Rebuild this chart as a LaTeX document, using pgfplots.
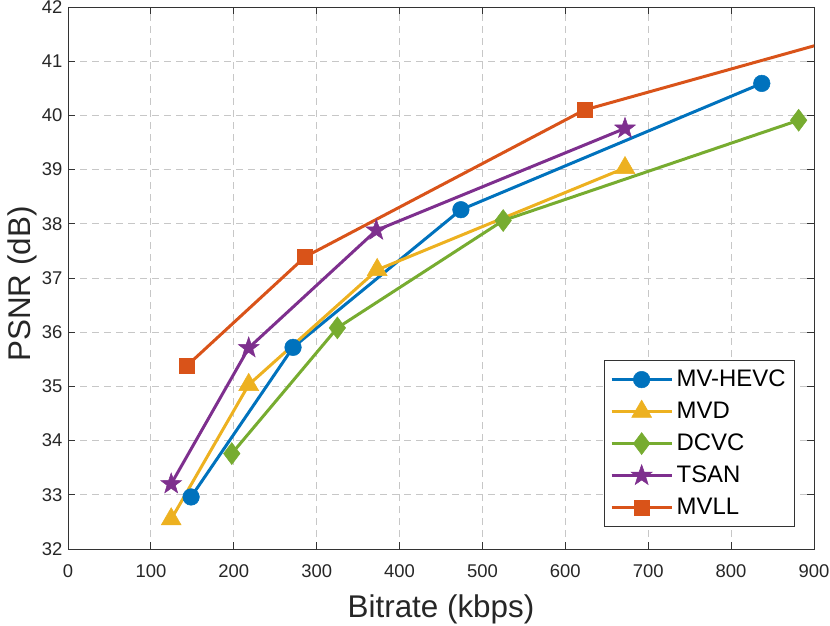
\documentclass[border=0pt]{standalone}
\usepackage{fontspec}
\setmainfont{Liberation Sans}
\usepackage{pgfplots}
\pgfplotsset{compat=1.18}
\definecolor{mblue}{rgb}{0,0.447,0.741}
\definecolor{morange}{rgb}{0.850,0.325,0.098}
\definecolor{myellow}{rgb}{0.929,0.694,0.125}
\definecolor{mpurple}{rgb}{0.494,0.184,0.556}
\definecolor{mgreen}{rgb}{0.466,0.674,0.188}
\pgfdeclareplotmark{fstar}{%
  \pgfpathmoveto{\pgfpointpolar{90}{\pgfplotmarksize}}%
  \pgfpathlineto{\pgfpointpolar{126}{0.40\pgfplotmarksize}}%
  \pgfpathlineto{\pgfpointpolar{162}{\pgfplotmarksize}}%
  \pgfpathlineto{\pgfpointpolar{198}{0.40\pgfplotmarksize}}%
  \pgfpathlineto{\pgfpointpolar{234}{\pgfplotmarksize}}%
  \pgfpathlineto{\pgfpointpolar{270}{0.40\pgfplotmarksize}}%
  \pgfpathlineto{\pgfpointpolar{306}{\pgfplotmarksize}}%
  \pgfpathlineto{\pgfpointpolar{342}{0.40\pgfplotmarksize}}%
  \pgfpathlineto{\pgfpointpolar{18}{\pgfplotmarksize}}%
  \pgfpathlineto{\pgfpointpolar{54}{0.40\pgfplotmarksize}}%
  \pgfpathclose
  \pgfusepathqfillstroke}
\begin{document}
\begin{tikzpicture}
\path[use as bounding box] (-68bp,-77bp) rectangle (762bp,549bp);
\begin{axis}[
  at={(0,0)}, anchor=south west,
  scale only axis, width=746bp, height=542bp,
  xmin=0, xmax=900, ymin=32, ymax=42,
  xtick={0,100,...,900}, ytick={32,33,...,42},
  /pgf/number format/assume math mode=true,
  tick label style={font=\fontsize{18.5}{22}\selectfont, text=black!85},
  xticklabel style={yshift=-12bp},
  yticklabel style={xshift=-2bp},
  tick align=inside, major tick length=7bp,
  xtick pos=both, ytick pos=both,
  axis line style={black!80, line width=0.8bp},
  every tick/.style={black!80, line width=0.8bp},
  grid=major,
  major grid style={black!22, line width=0.8bp, dash pattern=on 7bp off 5bp},
  xlabel={Bitrate (kbps)}, ylabel={PSNR (dB)},
  label style={font=\fontsize{31.5}{36}\selectfont, text=black!85},
  xlabel style={at={(axis description cs:0.5,0)}, anchor=base, yshift=-68bp, inner sep=0pt},
  ylabel style={at={(axis description cs:0,0.5)}, anchor=north, yshift=60bp, xshift=-6bp, inner sep=0pt},
  every axis plot/.append style={line width=3bp},
  legend cell align=left,
  legend style={at={(rel axis cs:1,0)}, anchor=south east, xshift=-19bp, yshift=22bp,
    font=\fontsize{24}{28}\selectfont, draw=black!80, line width=0.8bp,
    inner xsep=5.5bp, inner ysep=3bp,
    nodes={inner sep=3.5bp, text height=19bp, text depth=6bp},
    /tikz/every even column/.append style={column sep=0bp}},
  legend image code/.code={\draw[mark repeat=2,mark phase=2] plot coordinates {(0bp,0bp)(30bp,0bp)(60bp,0bp)};},
]
\addplot[mblue, mark=*, mark size=8.3bp, mark options={solid, line width=0.5bp}] coordinates {
 (148.5,32.96) (271.5,35.72) (474,38.26) (837,40.59)};
\addlegendentry{MV-HEVC}
\addplot[myellow, mark=triangle*, mark size=11.5bp, mark options={solid, line width=0.5bp}] coordinates {
 (124.5,32.55) (218,35.03) (373,37.15) (672,39.03)};
\addlegendentry{MVD}
\addplot[mgreen, mark=diamond*, mark size=11bp, mark options={solid, line width=0.5bp}] coordinates {
 (197.6,33.76) (325,36.08) (525,38.06) (881.5,39.91)};
\addlegendentry{DCVC}
\addplot[mpurple, mark=fstar, mark size=11bp, mark options={solid, line width=0.5bp}] coordinates {
 (124.5,33.20) (218,35.71) (372,37.88) (672,39.76)};
\addlegendentry{TSAN}
\addplot[morange, mark=square*, mark size=7.5bp, mark options={solid, line width=0.5bp}] coordinates {
 (143.4,35.38) (286,37.39) (623,40.10) (1000,41.71)};
\addlegendentry{MVLL}
\end{axis}
\end{tikzpicture}
\end{document}
